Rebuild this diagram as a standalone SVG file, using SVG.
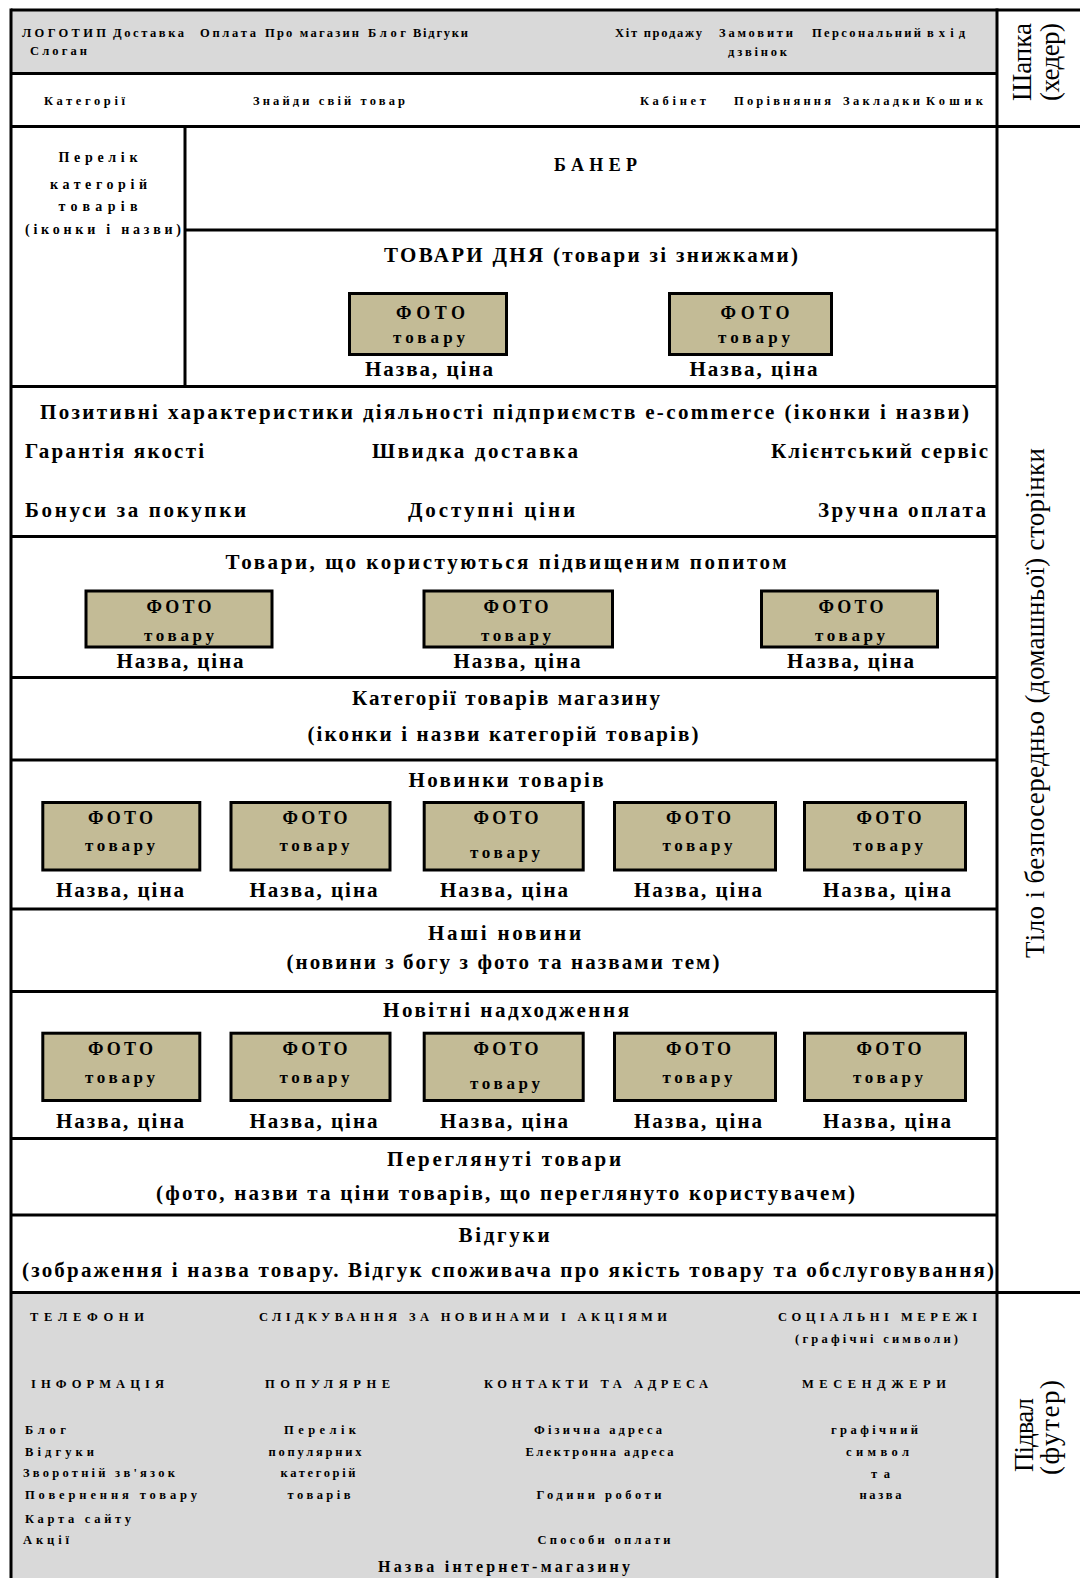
<svg xmlns="http://www.w3.org/2000/svg" width="1080" height="1578" viewBox="0 0 1080 1578">
<style>
.ln{stroke:#000;stroke-width:3;fill:none}
.gray{fill:#d9d9d9}
.ph{fill:#c3bb96;stroke:#000;stroke-width:3}
text{font-family:"Liberation Serif","Times New Roman",serif;fill:#000}
.b{font-weight:bold}
.s{font-size:12.5px}
.l{font-size:14px}
.m{font-size:21px}
.f{font-size:18px}
.t{font-size:17px}
.c{text-anchor:middle}
.r{font-size:27px}
</style>
<rect width="1080" height="1578" fill="#fff"/>
<g id="backgrounds">
<rect class="gray" x="11" y="10" width="986" height="63.5"/>
<rect class="gray" x="11" y="1292.5" width="986" height="285.5"/>
</g>
<g id="connectors">
<line class="ln" x1="11" y1="10" x2="1080" y2="10"/>
<line class="ln" x1="11" y1="8.5" x2="11" y2="1578"/>
<line class="ln" x1="997" y1="8.5" x2="997" y2="1578"/>
<line class="ln" x1="11" y1="73.5" x2="997" y2="73.5"/>
<line class="ln" x1="11" y1="126.5" x2="1080" y2="126.5"/>
<line class="ln" x1="185" y1="126.5" x2="185" y2="386.5"/>
<line class="ln" x1="185" y1="230" x2="997" y2="230"/>
<line class="ln" x1="11" y1="386.5" x2="997" y2="386.5"/>
<line class="ln" x1="11" y1="536.5" x2="997" y2="536.5"/>
<line class="ln" x1="11" y1="677.5" x2="997" y2="677.5"/>
<line class="ln" x1="11" y1="760" x2="997" y2="760"/>
<line class="ln" x1="11" y1="909" x2="997" y2="909"/>
<line class="ln" x1="11" y1="991.5" x2="997" y2="991.5"/>
<line class="ln" x1="11" y1="1138.5" x2="997" y2="1138.5"/>
<line class="ln" x1="11" y1="1215" x2="997" y2="1215"/>
<line class="ln" x1="11" y1="1292.5" x2="1080" y2="1292.5"/>
</g>
<g id="header-top">
<text class="b s" x="22" y="36.5" textLength="84">ЛОГОТИП</text>
<text class="b s" x="113" y="36.5" textLength="71">Доставка</text>
<text class="b s" x="200" y="36.5" textLength="56">Оплата</text>
<text class="b s" x="265" y="36.5" textLength="94">Про магазин</text>
<text class="b s" x="368" y="36.5" textLength="38">Блог</text>
<text class="b s" x="413" y="36.5" textLength="55">Відгуки</text>
<text class="b s" x="30" y="55" textLength="57">Слоган</text>
<text class="b s" x="615" y="36.5" textLength="87">Хіт продажу</text>
<text class="b s" x="719" y="36.5" textLength="74">Замовити</text>
<text class="b s" x="728" y="55.5" textLength="59">дзвінок</text>
<text class="b s" x="812" y="36.5" textLength="109">Персональний</text>
<text class="b s" x="927" y="36.5" textLength="38">вхід</text>
</g>
<g id="header-nav">
<text class="b s" x="44" y="104.5" textLength="81">Категорії</text>
<text class="b s" x="253" y="104.5" textLength="152">Знайди свій товар</text>
<text class="b s" x="640" y="104.5" textLength="66">Кабінет</text>
<text class="b s" x="734" y="104.5" textLength="97">Порівняння</text>
<text class="b s" x="843" y="104.5" textLength="77">Закладки</text>
<text class="b s" x="926" y="104.5" textLength="57">Кошик</text>
</g>
<g id="header-label">
<text class="r c" transform="translate(1031,62) rotate(-90)" textLength="78">Шапка</text>
<text class="r c" transform="translate(1059,62) rotate(-90)" textLength="78">(хедер)</text>
</g>
<g id="categories-list">
<text class="b l c" x="98" y="161.5" textLength="79">Перелік</text>
<text class="b l c" x="98.5" y="189" textLength="97">категорій</text>
<text class="b l c" x="98" y="211" textLength="79">товарів</text>
<text class="b l c" x="103" y="234" textLength="156">(іконки і назви)</text>
</g>
<g id="banner">
<text class="b f c" x="595.5" y="170.5" textLength="83">БАНЕР</text>
</g>
<g id="deals">
<text class="b m c" x="591" y="261.5" textLength="414">ТОВАРИ ДНЯ (товари зі знижками)</text>
<rect class="ph" x="349.5" y="293.5" width="157" height="61"/>
<text class="b f c" x="430.5" y="318.5" textLength="69">ФОТО</text>
<text class="b t c" x="429" y="343" textLength="72">товару</text>
<rect class="ph" x="669.5" y="293.5" width="162" height="61"/>
<text class="b f c" x="755" y="318.5" textLength="69">ФОТО</text>
<text class="b t c" x="754" y="343" textLength="72">товару</text>
<text class="b m c" x="429" y="375.5" textLength="128">Назва, ціна</text>
<text class="b m c" x="753.5" y="375.5" textLength="128">Назва, ціна</text>
</g>
<g id="advantages">
<text class="b m c" x="504.5" y="418.5" textLength="929">Позитивні характеристики  діяльності підприємств e-commerce (іконки і назви)</text>
<text class="b m" x="25" y="457.5" textLength="179">Гарантія якості</text>
<text class="b m" x="372" y="457.5" textLength="206">Швидка доставка</text>
<text class="b m" x="771" y="457.5" textLength="217">Клієнтський сервіс</text>
<text class="b m" x="25" y="516.5" textLength="221">Бонуси за покупки</text>
<text class="b m" x="408" y="516.5" textLength="167">Доступні ціни</text>
<text class="b m" x="818" y="516.5" textLength="168">Зручна оплата</text>
</g>
<g id="popular">
<text class="b m c" x="506" y="568.5" textLength="561">Товари, що користуються підвищеним  попитом</text>
<rect class="ph" x="86" y="591" width="186" height="56"/>
<rect class="ph" x="424" y="591" width="188.5" height="56"/>
<rect class="ph" x="761.5" y="591" width="176" height="56"/>
<text class="b f c" x="179" y="612.5" textLength="65">ФОТО</text>
<text class="b t c" x="179" y="641" textLength="70">товару</text>
<text class="b m c" x="180" y="667.5" textLength="127">Назва, ціна</text>
<text class="b f c" x="516" y="612.5" textLength="65">ФОТО</text>
<text class="b t c" x="516" y="641" textLength="70">товару</text>
<text class="b m c" x="517" y="667.5" textLength="127">Назва, ціна</text>
<text class="b f c" x="851" y="612.5" textLength="65">ФОТО</text>
<text class="b t c" x="850" y="641" textLength="70">товару</text>
<text class="b m c" x="850.5" y="667.5" textLength="127">Назва, ціна</text>
</g>
<g id="store-categories">
<text class="b m c" x="506" y="704.5" textLength="308">Категорії товарів магазину</text>
<text class="b m c" x="503" y="740.5" textLength="391">(іконки і назви категорій товарів)</text>
</g>
<g id="novelties">
<text class="b m c" x="506" y="786.5" textLength="195">Новинки товарів</text>
<rect class="ph" x="42.8" y="802.5" width="157" height="67.5"/>
<rect class="ph" x="231" y="802.5" width="159" height="67.5"/>
<rect class="ph" x="424.2" y="802.5" width="159" height="67.5"/>
<rect class="ph" x="614.5" y="802.5" width="161" height="67.5"/>
<rect class="ph" x="804.5" y="802.5" width="161" height="67.5"/>
<text class="b f c" x="120.5" y="823.5" textLength="65">ФОТО</text>
<text class="b t c" x="120" y="851" textLength="70">товару</text>
<text class="b m c" x="120" y="896.5" textLength="128">Назва, ціна</text>
<text class="b f c" x="315" y="823.5" textLength="65">ФОТО</text>
<text class="b t c" x="314.5" y="851" textLength="70">товару</text>
<text class="b m c" x="313.5" y="896.5" textLength="128">Назва, ціна</text>
<text class="b f c" x="506" y="823.5" textLength="65">ФОТО</text>
<text class="b t c" x="505" y="858" textLength="70">товару</text>
<text class="b m c" x="504" y="896.5" textLength="128">Назва, ціна</text>
<text class="b f c" x="698.5" y="823.5" textLength="65">ФОТО</text>
<text class="b t c" x="697.5" y="851" textLength="70">товару</text>
<text class="b m c" x="698" y="896.5" textLength="128">Назва, ціна</text>
<text class="b f c" x="889" y="823.5" textLength="65">ФОТО</text>
<text class="b t c" x="888" y="851" textLength="70">товару</text>
<text class="b m c" x="887" y="896.5" textLength="128">Назва, ціна</text>
</g>
<g id="news">
<text class="b m c" x="504.5" y="939.5" textLength="153">Наші новини</text>
<text class="b m c" x="503" y="968.5" textLength="433">(новини з богу з фото та назвами тем)</text>
</g>
<g id="new-arrivals">
<text class="b m c" x="506" y="1016.5" textLength="246">Новітні надходження</text>
<rect class="ph" x="42.8" y="1033.2" width="157" height="67.3"/>
<rect class="ph" x="231" y="1033.2" width="159" height="67.3"/>
<rect class="ph" x="424.2" y="1033.2" width="159" height="67.3"/>
<rect class="ph" x="614.5" y="1033.2" width="161" height="67.3"/>
<rect class="ph" x="804.5" y="1033.2" width="161" height="67.3"/>
<text class="b f c" x="120.5" y="1054.5" textLength="65">ФОТО</text>
<text class="b t c" x="120" y="1082.5" textLength="70">товару</text>
<text class="b m c" x="120" y="1127.5" textLength="128">Назва, ціна</text>
<text class="b f c" x="315" y="1054.5" textLength="65">ФОТО</text>
<text class="b t c" x="314.5" y="1082.5" textLength="70">товару</text>
<text class="b m c" x="313.5" y="1127.5" textLength="128">Назва, ціна</text>
<text class="b f c" x="506" y="1054.5" textLength="65">ФОТО</text>
<text class="b t c" x="505" y="1089" textLength="70">товару</text>
<text class="b m c" x="504" y="1127.5" textLength="128">Назва, ціна</text>
<text class="b f c" x="698.5" y="1054.5" textLength="65">ФОТО</text>
<text class="b t c" x="697.5" y="1082.5" textLength="70">товару</text>
<text class="b m c" x="698" y="1127.5" textLength="128">Назва, ціна</text>
<text class="b f c" x="889" y="1054.5" textLength="65">ФОТО</text>
<text class="b t c" x="888" y="1082.5" textLength="70">товару</text>
<text class="b m c" x="887" y="1127.5" textLength="128">Назва, ціна</text>
</g>
<g id="viewed">
<text class="b m c" x="504" y="1165.5" textLength="234">Переглянуті  товари</text>
<text class="b m c" x="505.5" y="1199.5" textLength="699">(фото, назви та ціни товарів, що переглянуто користувачем)</text>
</g>
<g id="reviews">
<text class="b m c" x="504" y="1242" textLength="91">Відгуки</text>
<text class="b m c" x="508" y="1276.5" textLength="972">(зображення і назва товару.  Відгук споживача про якість товару та обслуговування)</text>
</g>
<g id="body-label">
<text class="r c" transform="translate(1044,703) rotate(-90)" textLength="510">Тіло і безпосередньо (домашньої) сторінки</text>
</g>
<g id="footer">
<text class="b s" x="30" y="1320.5" textLength="114">ТЕЛЕФОНИ</text>
<text class="b s" x="259" y="1320.5" textLength="408">СЛІДКУВАННЯ ЗА НОВИНАМИ І АКЦІЯМИ</text>
<text class="b s" x="778" y="1320.5" textLength="199">СОЦІАЛЬНІ МЕРЕЖІ</text>
<text class="b s" x="795" y="1342.5" textLength="163">(графічні символи)</text>
<text class="b s" x="31" y="1388" textLength="133">ІНФОРМАЦІЯ</text>
<text class="b s" x="265" y="1388" textLength="125">ПОПУЛЯРНЕ</text>
<text class="b s" x="484" y="1388" textLength="224">КОНТАКТИ ТА АДРЕСА</text>
<text class="b s" x="802" y="1388" textLength="144">МЕСЕНДЖЕРИ</text>
<text class="b s" x="25" y="1433.5" textLength="41">Блог</text>
<text class="b s" x="25" y="1455.5" textLength="69">Відгуки</text>
<text class="b s" x="23" y="1477" textLength="152">Зворотній зв'язок</text>
<text class="b s" x="25" y="1499" textLength="172">Повернення  товару</text>
<text class="b s" x="25" y="1522.5" textLength="106">Карта сайту</text>
<text class="b s" x="23" y="1544" textLength="46">Акції</text>
<text class="b s c" x="320" y="1433.5" textLength="72">Перелік</text>
<text class="b s c" x="315" y="1455.5" textLength="93">популярних</text>
<text class="b s c" x="318" y="1477" textLength="75">категорій</text>
<text class="b s c" x="319" y="1499" textLength="63">товарів</text>
<text class="b s c" x="598" y="1434" textLength="128">Фізична адреса</text>
<text class="b s c" x="599.5" y="1455.5" textLength="148">Електронна адреса</text>
<text class="b s c" x="599" y="1499" textLength="125">Години роботи</text>
<text class="b s c" x="604" y="1544" textLength="133">Способи оплати</text>
<text class="b s c" x="874.5" y="1434" textLength="87">графічний</text>
<text class="b s c" x="877.5" y="1455.5" textLength="63">символ</text>
<text class="b s c" x="880.5" y="1477.5" textLength="19">та</text>
<text class="b s c" x="880.5" y="1499" textLength="42">назва</text>
<text class="b c" style="font-size:16px" x="504" y="1571.5" textLength="252">Назва інтернет-магазину</text>
</g>
<g id="footer-label">
<text class="r" transform="translate(1033,1472) rotate(-90)" textLength="74">Підвал</text>
<text class="r" transform="translate(1059,1475) rotate(-90)" textLength="95">(футер)</text>
</g>
</svg>
